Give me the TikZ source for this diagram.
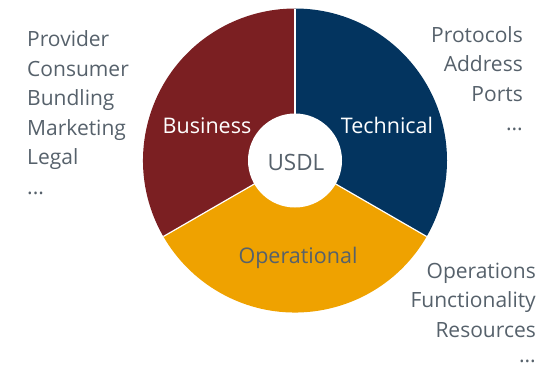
\documentclass[tikz,border=0pt]{standalone}
\usepackage{fontspec}
\setmainfont{Open Sans}
\definecolor{bizred}{HTML}{7B1F22}
\definecolor{technavy}{HTML}{03345F}
\definecolor{opamber}{HTML}{EFA200}
\definecolor{txtgray}{HTML}{56616B}
\begin{document}
\begin{tikzpicture}[x=1pt,y=-1pt,
  sector/.style={draw=white,line width=1.2pt},
  sidetext/.style={text=txtgray,font=\fontsize{21}{24}\selectfont,inner sep=0pt},
  seclabel/.style={font=\fontsize{21.5}{25}\selectfont,inner sep=0pt},
]
\useasboundingbox (0,0) rectangle (548,368);
\coordinate (c) at (295,160.5);
\def\R{152}
% sectors (y flipped: angles measured with y down)
\fill[technavy] (c) -- ++(-90:\R) arc[start angle=-90,end angle=30,radius=\R] -- cycle;
\fill[opamber] (c) -- ++(30:\R) arc[start angle=30,end angle=150,radius=\R] -- cycle;
\fill[bizred] (c) -- ++(150:\R) arc[start angle=150,end angle=270,radius=\R] -- cycle;
\draw[sector] (c) -- ++(-90:\R);
\draw[sector] (c) -- ++(30:\R);
\draw[sector] (c) -- ++(150:\R);
\node[circle,fill=white,minimum size=94pt,inner sep=0pt] (usdl) at (c) {};
\node[inner sep=0pt,text=txtgray,anchor=base,font=\fontsize{22.5}{26}\selectfont] (usdltxt) at (296,170.5) {USDL};
\node[seclabel,text=white,anchor=base] (biz) at (207,133) {Business};
\node[seclabel,text=white,anchor=base] (tech) at (387,133) {Technical};
\node[seclabel,text=txtgray,anchor=base] (ops) at (298,263) {Operational};
% left list
\node[sidetext,anchor=base west] (l1) at (27,46.7) {Provider};
\node[sidetext,anchor=base west] (l2) at (27,76.2) {Consumer};
\node[sidetext,anchor=base west] (l3) at (27,105.7) {Bundling};
\node[sidetext,anchor=base west] (l4) at (27,135.2) {Marketing};
\node[sidetext,anchor=base west] (l5) at (27,164.7) {Legal};
\node[sidetext,anchor=base west] (l6) at (27,194.2) {...};
% right top list
\node[sidetext,anchor=base east] (r1) at (523,42) {Protocols};
\node[sidetext,anchor=base east] (r2) at (523,71.5) {Address};
\node[sidetext,anchor=base east] (r3) at (523,101) {Ports};
\node[sidetext,anchor=base east] (r4) at (523,130.5) {...};
% right bottom list
\node[sidetext,anchor=base east] (b1) at (536,278) {Operations};
\node[sidetext,anchor=base east] (b2) at (536,307.5) {Functionality};
\node[sidetext,anchor=base east] (b3) at (536,337) {Resources};
\node[sidetext,anchor=base east] (b4) at (536,362) {...};
\end{tikzpicture}
\end{document}
